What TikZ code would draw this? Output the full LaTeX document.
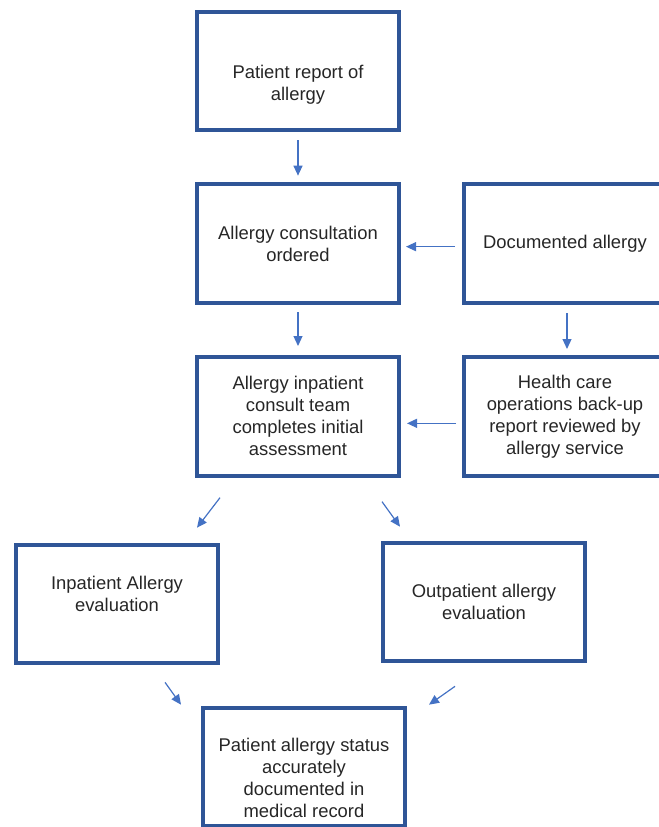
\documentclass[tikz,border=0pt]{standalone}
\usepackage{fontspec}
\setmainfont{Liberation Sans}
\usepackage{tikz}
\usetikzlibrary{
  arrows.meta,
  positioning
}
\definecolor{alFrame}{HTML}{2F5597}
\definecolor{alText}{HTML}{262626}
\definecolor{alArrow}{HTML}{4472C4}
\tikzset{
  alnode/.style={
    draw=alFrame, line width=3pt, minimum width=151.5pt, minimum height=89pt,
    inner ysep=2pt, align=center, text=alText,
    font=\fontsize{13.8}{16.5}\selectfont
  },
  flow/.style={-{Triangle[length=7.5pt, width=6.75pt]}, line width=0.9pt, alArrow},
}
% struts that push the text off the box centre
\newcommand{\padtop}[1]{\rule{0pt}{#1}}
\newcommand{\padbot}[1]{\rule[-#1]{0pt}{0pt}}

\begin{document}
\begin{tikzpicture}[x=0.75pt, y=-0.75pt, node distance=37.5pt and 45.75pt]
  \useasboundingbox (0,0) rectangle (658,827);
  \node[alnode] (report) at (298,71) {\padtop{31pt}Patient report of\\allergy};
  \node[alnode, below=of report] (consult) {Allergy consultation\\ordered};
  \node[alnode, right=of consult] (documented) {Documented allergy};
  \node[alnode, below=of consult] (inpteam) {Allergy inpatient\\consult team\\completes initial\\assessment};
  \node[alnode, below=of documented] (backup) {Health care\\operations back-up\\report reviewed by\\allergy service};
  \node[alnode] (inpeval) at (117,604) {Inpatient Allergy\\evaluation\padbot{15pt}};
  \node[alnode] (outeval) at (484,602) {Outpatient allergy\\evaluation};
  \node[alnode] (status) at (304,767) {\padtop{26pt}Patient allergy status\\accurately\\documented in\\medical record};

  \draw[flow, shorten <=6pt, shorten >=5pt] (report) -- (consult);
  \draw[flow, shorten <=5.25pt, shorten >=6.75pt] (consult) -- (inpteam);
  \draw[flow, shorten <=5.25pt, shorten >=3.75pt] ([shift={(0,3)}]documented.west) -- ([shift={(0,3)}]consult.east);
  \draw[flow, shorten <=6pt, shorten >=4.5pt] ([shift={(2,0)}]documented.south) -- ([shift={(2,0)}]backup.north);
  \draw[flow, shorten <=4.5pt, shorten >=4.5pt] ([shift={(0,7)}]backup.west) -- ([shift={(0,7)}]inpteam.east);
  \draw[flow] ([shift={(-78,20)}]inpteam.south) -- ([shift={(80,-15)}]inpeval.north);
  \draw[flow] ([shift={(84,24)}]inpteam.south) -- ([shift={(-84,-14)}]outeval.north);
  \draw[flow] ([shift={(48,17)}]inpeval.south) -- ([shift={(-123,-1)}]status.north);
  \draw[flow] ([shift={(-29,23)}]outeval.south) -- ([shift={(125,-1)}]status.north);
\end{tikzpicture}
\end{document}
